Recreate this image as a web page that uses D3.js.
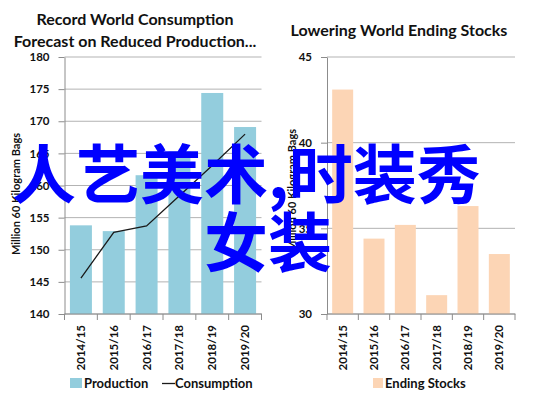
<!DOCTYPE html>
<html>
<head>
<meta charset="utf-8">
<script src="https://cdn.jsdelivr.net/npm/d3@7"></script>
<style>
  body { margin: 0; background: #fff; }
  text { font-family: Lato, "Open Sans", sans-serif; font-weight: bold; fill: #111; }
  .overlay { font-family: "Noto Sans CJK SC", sans-serif; font-weight: bold; fill: #0000ff; }
</style>
</head>
<body>
<div class="chart"></div>
<script>
var seasons = ["2014/15", "2015/16", "2016/17", "2017/18", "2018/19", "2019/20"];
var production = [153.8, 152.9, 161.6, 165.3, 174.4, 169.1];
var consumption = [145.6, 152.7, 153.7, 158.4, 163.1, 168.0];
var endingStocks = [43.1, 34.4, 35.2, 31.1, 36.3, 33.5];
var leftTicks = [140, 145, 150, 155, 160, 165, 170, 175, 180];
var rightTicks = [30, 35, 40, 45];

var svgWidth = 537;
var svgHeight = 399;

var svg = d3.select(".chart")
  .append("svg")
  .attr("width", svgWidth)
  .attr("height", svgHeight);

// one panel: bars (+ optional line) with gridlines and rotated labels
function drawPanel(opt) {
  var g = svg.append("g");

  var x = d3.scaleBand()
    .domain(seasons)
    .range([opt.x0, opt.x1])
    .paddingInner(0.33)
    .paddingOuter(0.165);

  var y = d3.scaleLinear()
    .domain(opt.domain)
    .range([314, 57]);

  // gridlines
  g.append("g")
    .selectAll("line")
    .data(opt.ticks)
    .enter()
    .append("line")
    .attr("x1", opt.x0)
    .attr("x2", opt.x1)
    .attr("y1", d => y(d))
    .attr("y2", d => y(d))
    .attr("stroke", "#b3b3b3")
    .attr("stroke-width", 1);

  // bars
  g.selectAll("rect.bar")
    .data(opt.values)
    .enter()
    .append("rect")
    .attr("class", "bar")
    .attr("x", (d, i) => x(seasons[i]))
    .attr("y", d => y(d))
    .attr("width", x.bandwidth())
    .attr("height", d => y(opt.domain[0]) - y(d))
    .attr("fill", opt.color);

  if (opt.line) {
    var line = d3.line()
      .x((d, i) => x(seasons[i]) + x.bandwidth() / 2)
      .y(d => y(d));
    g.append("path")
      .attr("d", line(opt.line))
      .attr("fill", "none")
      .attr("stroke", "#1a1a1a")
      .attr("stroke-width", 1.3);
  }

  // y axis
  var leftAxis = d3.axisLeft(y)
    .tickValues(opt.ticks)
    .tickSize(6)
    .tickPadding(9)
    .tickSizeOuter(0);
  var ya = g.append("g")
    .attr("transform", `translate(${opt.x0}, 0)`)
    .call(leftAxis);
  ya.select(".domain").attr("stroke", "#8c8c8c");
  ya.selectAll(".tick line").attr("stroke", "#8c8c8c");
  ya.selectAll(".tick text")
    .style("font-size", "11.5px")
    .style("font-family", "Lato, sans-serif")
    .style("font-weight", "bold")
    .attr("fill", "#111");

  // x axis: baseline and boundary ticks
  var bottom = y(opt.domain[0]);
  g.append("line")
    .attr("x1", opt.x0)
    .attr("x2", opt.x1 + 0.5)
    .attr("y1", bottom)
    .attr("y2", bottom)
    .attr("stroke", "#8c8c8c");
  var step = x.step();
  var bounds = d3.range(seasons.length + 1).map(i => opt.x0 + i * step);
  g.selectAll("line.xt")
    .data(bounds)
    .enter()
    .append("line")
    .attr("class", "xt")
    .attr("x1", d => d)
    .attr("x2", d => d)
    .attr("y1", bottom)
    .attr("y2", bottom + 6)
    .attr("stroke", "#8c8c8c");

  g.selectAll("text.xl")
    .data(seasons)
    .enter()
    .append("text")
    .attr("class", "xl")
    .attr("transform", d => `translate(${x(d) + x.bandwidth() / 2 + 4}, ${bottom + 11}) rotate(-90)`)
    .attr("text-anchor", "end")
    .style("font-size", "11.5px")
    .text(d => d);

  // y label
  g.append("text")
    .attr("transform", `translate(${opt.labelX}, ${opt.labelY}) rotate(-90)`)
    .attr("text-anchor", "middle")
    .style("font-size", "11px")
    .text("Million 60 Kilogram Bags");

  // title
  opt.title.forEach(function(t, i) {
    g.append("text")
      .attr("x", opt.titleX)
      .attr("y", opt.titleY + i * 21.5)
      .attr("text-anchor", "middle")
      .style("font-size", "16px")
      .text(t);
  });

  return g;
}

drawPanel({
  x0: 64.5, x1: 261.5,
  domain: [140, 180], ticks: leftTicks,
  values: production, line: consumption,
  color: "#93cddd",
  labelX: 20, labelY: 194,
  title: ["Record World Consumption", "Forecast on Reduced Production..."],
  titleX: 135, titleY: 25
});

drawPanel({
  x0: 327, x1: 515,
  domain: [30, 45], ticks: rightTicks,
  values: endingStocks, line: null,
  color: "#fcd5b5",
  labelX: 296, labelY: 190,
  title: ["Lowering World Ending Stocks"],
  titleX: 399, titleY: 36
});

// legends
var legend = svg.append("g");
legend.append("rect").attr("x", 70).attr("y", 378).attr("width", 12).attr("height", 10).attr("fill", "#93cddd");
legend.append("text").attr("x", 84).attr("y", 388).style("font-size", "13px").text("Production");
legend.append("line").attr("x1", 162).attr("x2", 175).attr("y1", 383.5).attr("y2", 383.5).attr("stroke", "#1a1a1a").attr("stroke-width", 1.3);
legend.append("text").attr("x", 175).attr("y", 388).style("font-size", "13px").text("Consumption");
legend.append("rect").attr("x", 373).attr("y", 378).attr("width", 10).attr("height", 10).attr("fill", "#fcd5b5");
legend.append("text").attr("x", 385).attr("y", 388).style("font-size", "13px").text("Ending Stocks");

// overlaid caption
svg.append("text").attr("class", "overlay").attr("x", 12).attr("y", 198).style("font-size", "64px").text("人艺美术,时装秀");
svg.append("text").attr("class", "overlay").attr("x", 204).attr("y", 266).style("font-size", "64px").text("女装");
</script>
</body>
</html>
